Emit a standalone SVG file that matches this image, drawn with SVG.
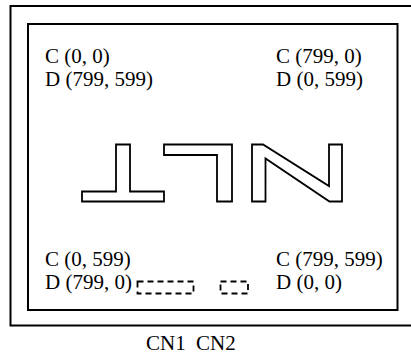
<svg xmlns="http://www.w3.org/2000/svg" width="411" height="356" viewBox="0 0 411 356">
<style>
.frame{fill:none;stroke:#000;stroke-width:2}
.shape{fill:#fff;stroke:#000;stroke-width:1.8;stroke-linejoin:miter}
.dash{fill:none;stroke:#000;stroke-width:1.8;stroke-dasharray:6 4}
text{font-family:"Liberation Serif","Times New Roman",serif;font-size:21px;fill:#000}
</style>
<rect width="411" height="356" fill="#fff"/>
<g id="outer-frame"><rect class="frame" x="10.5" y="6" width="410" height="319.5"/></g>
<g id="screen"><rect class="frame" x="28" y="24" width="369.5" height="286"/></g>
<g id="corner-tl"><text x="45" y="63">C (0, 0)</text><text x="45" y="86">D (799, 599)</text></g>
<g id="corner-tr"><text x="276" y="63">C (799, 0)</text><text x="276" y="86">D (0, 599)</text></g>
<g id="corner-bl"><text x="45" y="266">C (0, 599)</text><text x="45" y="289">D (799, 0)</text></g>
<g id="corner-br"><text x="276" y="266">C (799, 599)</text><text x="276" y="289">D (0, 0)</text></g>
<g id="glyph-T"><path class="shape" d="M116,144.5 H130 V191.5 H164 V201.5 H82 V191.5 H116 Z"/></g>
<g id="glyph-L"><path class="shape" d="M164,144.5 H232 V201.5 H217 V155 H164 Z"/></g>
<g id="glyph-N"><path class="shape" d="M252,144.5 H263 L329,186 V144.5 H342 V201.5 H329.5 L265.5,158.5 V201.5 H252 Z"/></g>
<g id="CN1"><rect class="dash" x="137.5" y="281.5" width="56" height="12"/><text x="146" y="350" font-size="19">CN1</text></g>
<g id="CN2"><rect class="dash" x="220.5" y="281.5" width="27.5" height="12"/><text x="196" y="350" font-size="19">CN2</text></g>
<g id="connectors"></g>
</svg>
